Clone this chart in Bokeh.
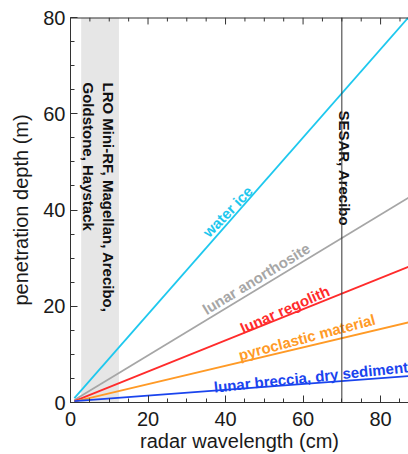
from bokeh.plotting import figure
from bokeh.models import SingleIntervalTicker, Span, ColumnDataSource
from bokeh.embed import file_html
from bokeh.resources import INLINE
from bokeh.core.properties import value

# ---- data ----
wavelength = [1.0, 87.5]          # radar wavelength (cm)
water_ice = [0.9, 80.3]           # penetration depth (m)
anorthosite = [0.5, 42.7]
regolith = [0.3, 28.3]
pyroclastic = [0.2, 16.7]
breccia = [0.3, 5.5]

band_left = [2.75]                 # LRO Mini-RF ... band (cm)
band_right = [12.5]
band_bottom = [0]
band_top = [80]
sesar_wavelength = 70

x_ticks = [0, 20, 40, 60, 80]
y_ticks = [0, 20, 40, 60, 80]
x_max = 87.2
y_max = 80

series_names = ["water ice", "lunar anorthosite", "lunar regolith",
                "pyroclastic material", "lunar breccia, dry sediments"]
series_values = [water_ice, anorthosite, regolith, pyroclastic, breccia]
series_colors = ["#1ec8ee", "#a6a6a6", "#ff2b2b", "#ff9a26", "#1a44ee"]
label_x = [34.8, 34.4, 44.0, 43.4, 37.0]
label_y = [34.9, 19.1, 15.3, 9.8, 3.2]
label_angle = [46, 31.4, 24, 15, 6]

band_text = ["LRO Mini-RF, Magellan, Arecibo,", "Goldstone, Haystack"]
band_text_x = [9.7, 4.55]
band_text_y = [66.5, 66.5]
sesar_text = ["SESAR, Arecibo"]
sesar_text_x = [70.8]
sesar_text_y = [60.7]

FONT = "Liberation Sans"
AX = "#333333"
TXT = "#1a1a1a"

p = figure(width=408, height=454, x_range=(0, x_max), y_range=(0, y_max),
           output_backend="svg", toolbar_location=None,
           min_border_left=70, min_border_right=0, min_border_top=17,
           min_border_bottom=50)
p.outline_line_color = None
p.xgrid.visible = False
p.ygrid.visible = False

for ax in (p.xaxis[0], p.yaxis[0]):
    ax.ticker = SingleIntervalTicker(interval=20, num_minor_ticks=4)
    ax.major_tick_in = 7
    ax.major_tick_out = 0
    ax.minor_tick_in = 4
    ax.minor_tick_out = 0
    ax.axis_line_color = AX
    ax.major_tick_line_color = AX
    ax.minor_tick_line_color = AX
    ax.major_tick_line_width = 1
    ax.minor_tick_line_width = 1
    ax.major_label_text_font = FONT
    ax.major_label_text_font_size = "20px"
    ax.major_label_text_color = TXT
    ax.major_label_standoff = 5
    ax.axis_label_text_font = FONT
    ax.axis_label_text_font_size = "20px"
    ax.axis_label_text_font_style = "normal"
    ax.axis_label_text_color = TXT

p.yaxis[0].axis_label = "penetration depth (m)"
p.yaxis[0].axis_label_standoff = 8
p.xaxis[0].axis_label = "radar wavelength (cm)"
p.xaxis[0].major_label_standoff = 9
p.xaxis[0].axis_label_standoff = 1

# gray band
p.quad(left=band_left, right=band_right, bottom=band_bottom, top=band_top,
       fill_color="#e6e6e6", line_color=None)

# SESAR line
p.add_layout(Span(location=sesar_wavelength, dimension="height",
                  line_color="#333333", line_width=1))

for vals, col in zip(series_values, series_colors):
    p.line(wavelength, vals, line_color=col, line_width=1.8)

src = ColumnDataSource(dict(x=label_x, y=label_y, text=series_names,
                            angle=label_angle, color=series_colors))
p.text(x="x", y="y", text="text", angle="angle", angle_units="deg",
       text_color="color", source=src, text_font=value(FONT),
       text_font_style="bold", text_font_size="15px",
       text_align="left", text_baseline="alphabetic")

p.text(x=band_text_x, y=band_text_y, text=band_text, angle=-90, angle_units="deg",
       text_color="#111111", text_font=value(FONT), text_font_style="bold",
       text_font_size="15px", text_align="left", text_baseline="alphabetic")
p.text(x=sesar_text_x, y=sesar_text_y, text=sesar_text, angle=-90, angle_units="deg",
       text_color="#111111", text_font=value(FONT), text_font_style="bold",
       text_font_size="15px", text_align="left", text_baseline="alphabetic")

# top frame line with inward ticks (no labels)
p.add_layout(Span(location=y_max, dimension="width", line_color=AX, line_width=2))
major_top = list(x_ticks)
minor_top = [t + m for t in x_ticks for m in (5, 10, 15) if t + m < x_max]
p.segment(x0=major_top, x1=major_top, y0=[y_max] * len(major_top),
          y1=[y_max - 7 / 4.84] * len(major_top), line_color=AX, line_width=1)
p.segment(x0=minor_top, x1=minor_top, y0=[y_max] * len(minor_top),
          y1=[y_max - 4 / 4.84] * len(minor_top), line_color=AX, line_width=1)

open("out.html", "w").write(file_html(p, INLINE))
